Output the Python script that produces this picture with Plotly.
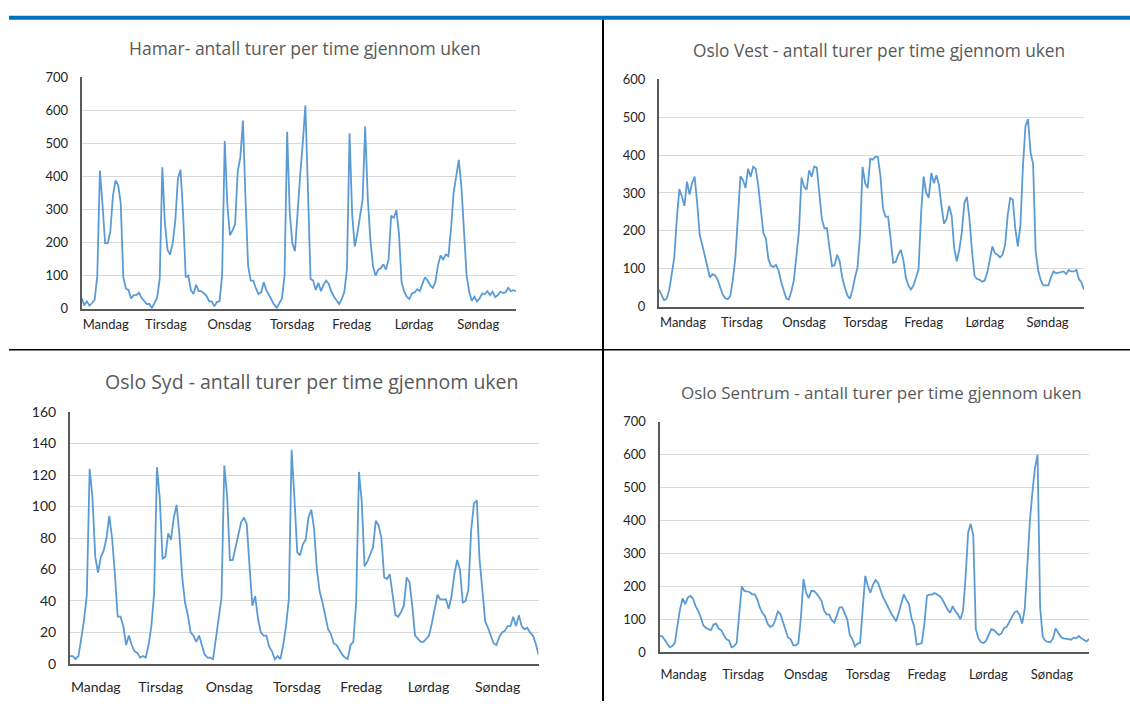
import plotly.graph_objects as go

W, H = 1130, 709

days = ["Mandag", "Tirsdag", "Onsdag", "Torsdag", "Fredag", "Lørdag", "Søndag"]
hours = list(range(168))

titles = [
    "Hamar- antall turer per time gjennom uken",
    "Oslo Vest - antall turer per time gjennom uken",
    "Oslo Syd - antall turer per time gjennom uken",
    "Oslo Sentrum - antall turer per time gjennom uken",
]

hamar = [
    31, 10, 22, 9, 17, 27, 100, 418, 315, 198, 198, 232, 340, 388, 374, 320, 95, 61, 56, 31, 41, 41, 48, 33,
    24, 14, 14, 2, 17, 33, 90, 428, 257, 178, 164, 198, 267, 394, 420, 286, 95, 100, 56, 44, 72, 53, 53, 46,
    39, 22, 22, 7, 20, 22, 100, 507, 316, 222, 237, 257, 416, 458, 569, 330, 129, 85, 85, 61, 44, 49, 80, 56,
    41, 24, 12, 2, 17, 31, 100, 535, 290, 198, 174, 296, 404, 500, 615, 360, 90, 85, 56, 78, 53, 72, 85, 75,
    51, 36, 26, 14, 29, 51, 120, 531, 286, 188, 227, 286, 330, 551, 335, 208, 129, 100, 118, 122, 134, 118, 149, 281,
    275, 298, 227, 80, 51, 36, 29, 46, 49, 59, 53, 75, 95, 85, 71, 63, 80, 131, 161, 149, 164, 159, 240, 350,
    395, 450, 370, 235, 100, 51, 24, 36, 22, 31, 46, 44, 53, 41, 51, 35, 41, 51, 48, 49, 63, 53, 56, 53,
]

oslo_vest = [
    45, 30, 17, 21, 43, 86, 130, 231, 310, 291, 266, 330, 296, 326, 343, 274, 189, 163, 133, 103, 77, 86, 83, 72,
    52, 33, 22, 20, 28, 70, 129, 240, 344, 334, 313, 364, 343, 369, 364, 320, 257, 195, 180, 125, 108, 105, 110, 95,
    65, 40, 22, 19, 40, 70, 129, 200, 340, 317, 309, 360, 343, 370, 367, 291, 231, 207, 207, 154, 107, 110, 137, 120,
    77, 51, 30, 21, 43, 77, 103, 190, 369, 326, 313, 390, 388, 396, 395, 345, 260, 237, 238, 180, 116, 118, 137, 150,
    124, 77, 56, 45, 56, 77, 100, 249, 343, 300, 287, 353, 326, 347, 321, 266, 219, 231, 266, 240, 154, 120, 150, 197,
    274, 290, 231, 146, 81, 73, 71, 66, 69, 90, 124, 159, 141, 137, 130, 137, 163, 240, 287, 283, 206, 159, 214, 369,
    476, 495, 407, 377, 146, 96, 70, 56, 56, 56, 77, 93, 88, 90, 90, 93, 86, 97, 93, 93, 97, 73, 64, 45,
]

oslo_syd = [
    5, 5, 3, 5, 16, 28, 44, 124, 106, 68, 58, 68, 72, 80, 94, 80, 57, 30, 30, 24, 12, 18, 12, 8,
    7, 4, 5, 4, 12, 24, 45, 125, 105, 67, 68, 83, 79, 93, 101, 82, 55, 39, 31, 20, 18, 14, 18, 12,
    6, 4, 4, 3, 16, 31, 42, 126, 107, 66, 66, 74, 82, 90, 93, 89, 62, 37, 43, 29, 20, 18, 18, 11,
    8, 3, 5, 3, 12, 24, 41, 136, 105, 71, 69, 76, 79, 93, 98, 86, 60, 46, 39, 31, 22, 19, 13, 12,
    9, 6, 4, 3, 12, 14, 39, 122, 103, 62, 65, 69, 74, 91, 88, 80, 55, 54, 57, 44, 31, 30, 33, 37,
    55, 52, 37, 18, 16, 14, 14, 16, 18, 26, 36, 44, 41, 41, 41, 35, 43, 57, 66, 60, 39, 40, 47, 85,
    102, 104, 66, 47, 27, 23, 18, 13, 12, 17, 20, 21, 24, 24, 30, 24, 31, 24, 22, 23, 20, 18, 13, 6,
]

oslo_sentrum = [
    49, 49, 38, 26, 15, 19, 29, 82, 131, 164, 146, 166, 171, 163, 141, 126, 107, 82, 74, 70, 67, 84, 87, 72,
    67, 52, 39, 36, 15, 18, 28, 116, 200, 186, 184, 183, 176, 176, 161, 136, 119, 110, 87, 77, 80, 97, 124, 116,
    92, 64, 44, 40, 21, 21, 28, 107, 222, 181, 164, 186, 186, 179, 169, 156, 126, 115, 114, 97, 90, 112, 136, 137,
    116, 100, 52, 40, 18, 26, 28, 131, 232, 202, 181, 205, 220, 210, 186, 166, 151, 133, 119, 107, 94, 119, 151, 176,
    159, 146, 102, 80, 23, 25, 28, 87, 172, 175, 175, 180, 176, 170, 160, 145, 130, 120, 140, 125, 115, 100, 125, 225,
    363, 390, 355, 70, 42, 30, 28, 35, 52, 70, 67, 60, 52, 58, 74, 77, 92, 107, 121, 125, 114, 87, 131, 260,
    398, 487, 561, 600, 136, 47, 35, 31, 30, 42, 72, 60, 47, 42, 42, 40, 38, 44, 42, 49, 42, 38, 33, 40,
]

series = [hamar, oslo_vest, oslo_syd, oslo_sentrum]
y_max = [700, 600, 160, 700]
y_step = [100, 100, 20, 100]

# layout geometry (pixels): plot left, plot right, y of zero, y of max, title centre x/y, title size,
# tick font size, day-label standoff
geom = [
    dict(x0=81.7, x1=516, yb=307, yt=70, tx=305, ty=40, ts=17.5, fs=13, xs=3),
    dict(x0=659, x1=1084, yb=305, yt=72, tx=879, ty=43, ts=17.3, fs=13, xs=3),
    dict(x0=70, x1=538.5, yb=671, yt=413, tx=312, ty=382, ts=19.5, fs=14, xs=9),
    dict(x0=659.5, x1=1089, yb=659, yt=423, tx=881, ty=393, ts=17, fs=13, xs=9),
]

FONT = "Lato, 'Century Gothic', sans-serif"
TITLE_FONT = "'Open Sans', 'Century Gothic', sans-serif"
LINE_COLOR = "#5B9BD5"
AXIS_COLOR = "#595959"
TEXT_COLOR = "#404040"

fig = go.Figure()
layout = dict(
    width=W, height=H, margin=dict(l=0, r=0, t=0, b=0),
    paper_bgcolor="white", plot_bgcolor="white", showlegend=False,
    font=dict(family=FONT, color=TEXT_COLOR),
    annotations=[], shapes=[],
)

for k, (vals, g) in enumerate(zip(series, geom)):
    xn = "x" if k == 0 else f"x{k+1}"
    yn = "y" if k == 0 else f"y{k+1}"
    fig.add_trace(go.Scatter(
        x=hours, y=vals, mode="lines",
        line=dict(color=LINE_COLOR, width=1.8),
        xaxis=xn, yaxis=yn, hoverinfo="skip",
    ))
    layout["xaxis" if k == 0 else f"xaxis{k+1}"] = dict(
        domain=[g["x0"] / W, g["x1"] / W], range=[0, 167], anchor=yn,
        showgrid=False, zeroline=False, showline=True,
        linecolor=AXIS_COLOR, linewidth=2,
        tickmode="array", tickvals=[24 * d for d in range(7)], ticktext=days,
        ticks="", ticklabelposition="outside right", ticklabelstandoff=g["xs"],
        tickfont=dict(family=FONT, size=g["fs"], color="#262626"),
    )
    layout["yaxis" if k == 0 else f"yaxis{k+1}"] = dict(
        domain=[1 - g["yb"] / H, 1 - g["yt"] / H], range=[0, y_max[k]], anchor=xn,
        tick0=0, dtick=y_step[k],
        showgrid=True, gridcolor="#D9D9D9", gridwidth=1.2,
        zeroline=False, showline=True, linecolor=AXIS_COLOR, linewidth=2,
        ticks="", ticklabelstandoff=9,
        tickfont=dict(family=FONT, size=g["fs"], color="#262626"),
    )
    layout["annotations"].append(dict(
        text=titles[k], xref="paper", yref="paper",
        x=g["tx"] / W, y=1 - g["ty"] / H, xanchor="center", yanchor="middle",
        showarrow=False, font=dict(family=TITLE_FONT, size=g["ts"], color="#595959"),
    ))

# frame decorations
layout["shapes"] += [
    dict(type="rect", xref="paper", yref="paper", x0=9 / W, x1=1, y0=1 - 11 / H, y1=1 - 7 / H,
         fillcolor="#0070C0", line=dict(width=0)),
    dict(type="line", xref="paper", yref="paper", x0=9 / W, x1=1, y0=1 - 349 / H, y1=1 - 349 / H,
         line=dict(color="black", width=1.5)),
    dict(type="line", xref="paper", yref="paper", x0=603 / W, x1=603 / W, y0=0, y1=1 - 11 / H,
         line=dict(color="black", width=2)),
]

fig.update_layout(**layout)
fig.write_html("out.html")
